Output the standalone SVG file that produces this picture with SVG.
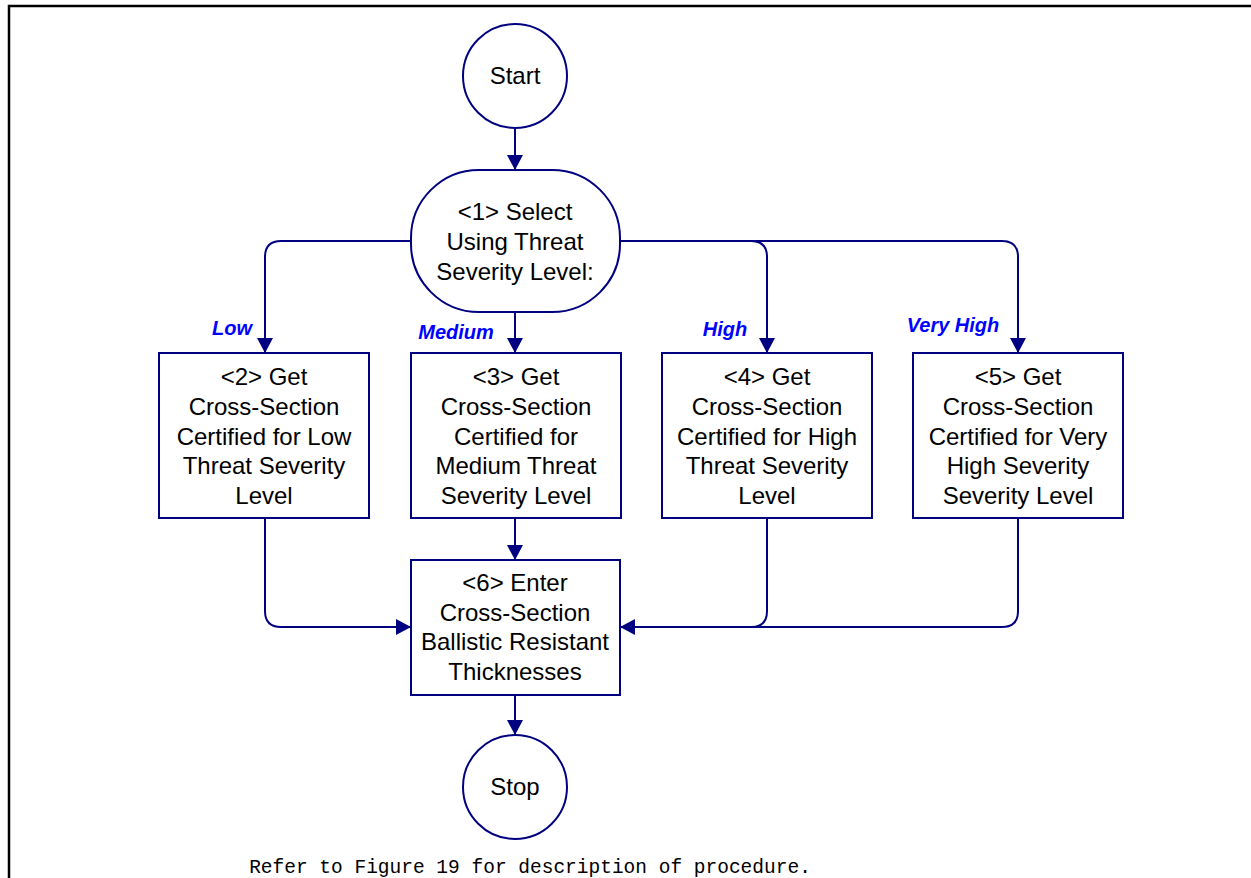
<svg xmlns="http://www.w3.org/2000/svg" width="1251" height="878" viewBox="0 0 1251 878">
<style>
.n{fill:#fff;stroke:#000080;stroke-width:2}
.t{font-family:"Liberation Sans",Arial,sans-serif;font-size:24px;fill:#000;text-anchor:middle;dominant-baseline:central}
.c{fill:none;stroke:#000080;stroke-width:2}
.l{font-family:"Liberation Sans",Arial,sans-serif;font-size:20px;font-weight:bold;font-style:italic;fill:#0000ff;text-anchor:middle;dominant-baseline:central}
</style>
<defs>
<marker id="a" markerWidth="16" markerHeight="16" refX="15" refY="8" orient="auto" markerUnits="userSpaceOnUse">
<path d="M0,0 L15,8 L0,16 Z" fill="#000080"/>
</marker>
</defs>
<rect width="1251" height="878" fill="#fff"/>
<path d="M9,878 V6 H1251" fill="none" stroke="#000" stroke-width="2.5"/>
<g id="connectors">
<path class="c" d="M515,128 V170" marker-end="url(#a)"/>
<path class="c" d="M411,241 H281 Q265,241 265,257 V353" marker-end="url(#a)"/>
<path class="c" d="M515,312 V353" marker-end="url(#a)"/>
<path class="c" d="M620,241 H751 Q767,241 767,257 V353" marker-end="url(#a)"/>
<path class="c" d="M751,241 H1002 Q1018,241 1018,257 V353" marker-end="url(#a)"/>
<path class="c" d="M515,518 V560" marker-end="url(#a)"/>
<path class="c" d="M265,518 V611 Q265,627 281,627 H411" marker-end="url(#a)"/>
<path class="c" d="M767,518 V611 Q767,627 751,627 H620" marker-end="url(#a)"/>
<path class="c" d="M1018,518 V611 Q1018,627 1002,627 H751"/>
<path class="c" d="M515,695 V735" marker-end="url(#a)"/>
</g>
<g id="labels">
<text class="l" x="232" y="328">Low</text>
<text class="l" x="456" y="332">Medium</text>
<text class="l" x="725" y="329">High</text>
<text class="l" x="953" y="325">Very High</text>
</g>
<g id="start">
<circle class="n" cx="515" cy="76" r="52"/>
<text class="t" x="515" y="75">Start</text>
</g>
<g id="n1">
<rect class="n" x="411" y="170" width="209" height="142" rx="68" ry="68"/>
<text class="t" x="515" y="211">&lt;1&gt; Select</text>
<text class="t" x="515" y="241">Using Threat</text>
<text class="t" x="515" y="271">Severity Level:</text>
</g>
<g id="n2">
<rect class="n" x="159" y="353" width="210" height="165"/>
<text class="t" x="264" y="376">&lt;2&gt; Get</text>
<text class="t" x="264" y="406">Cross-Section</text>
<text class="t" x="264" y="436">Certified for Low</text>
<text class="t" x="264" y="465">Threat Severity</text>
<text class="t" x="264" y="495">Level</text>
</g>
<g id="n3">
<rect class="n" x="411" y="353" width="210" height="165"/>
<text class="t" x="516" y="376">&lt;3&gt; Get</text>
<text class="t" x="516" y="406">Cross-Section</text>
<text class="t" x="516" y="436">Certified for</text>
<text class="t" x="516" y="465">Medium Threat</text>
<text class="t" x="516" y="495">Severity Level</text>
</g>
<g id="n4">
<rect class="n" x="662" y="353" width="210" height="165"/>
<text class="t" x="767" y="376">&lt;4&gt; Get</text>
<text class="t" x="767" y="406">Cross-Section</text>
<text class="t" x="767" y="436">Certified for High</text>
<text class="t" x="767" y="465">Threat Severity</text>
<text class="t" x="767" y="495">Level</text>
</g>
<g id="n5">
<rect class="n" x="913" y="353" width="210" height="165"/>
<text class="t" x="1018" y="376">&lt;5&gt; Get</text>
<text class="t" x="1018" y="406">Cross-Section</text>
<text class="t" x="1018" y="436">Certified for Very</text>
<text class="t" x="1018" y="465">High Severity</text>
<text class="t" x="1018" y="495">Severity Level</text>
</g>
<g id="n6">
<rect class="n" x="411" y="560" width="209" height="135"/>
<text class="t" x="515" y="582">&lt;6&gt; Enter</text>
<text class="t" x="515" y="612">Cross-Section</text>
<text class="t" x="515" y="641">Ballistic Resistant</text>
<text class="t" x="515" y="671">Thicknesses</text>
</g>
<g id="stop">
<circle class="n" cx="515" cy="787" r="52"/>
<text class="t" x="515" y="786">Stop</text>
</g>
<text x="530" y="873" font-family="'Liberation Mono','Courier New',monospace" font-size="19.5" text-anchor="middle" fill="#000">Refer to Figure 19 for description of procedure.</text>
</svg>
